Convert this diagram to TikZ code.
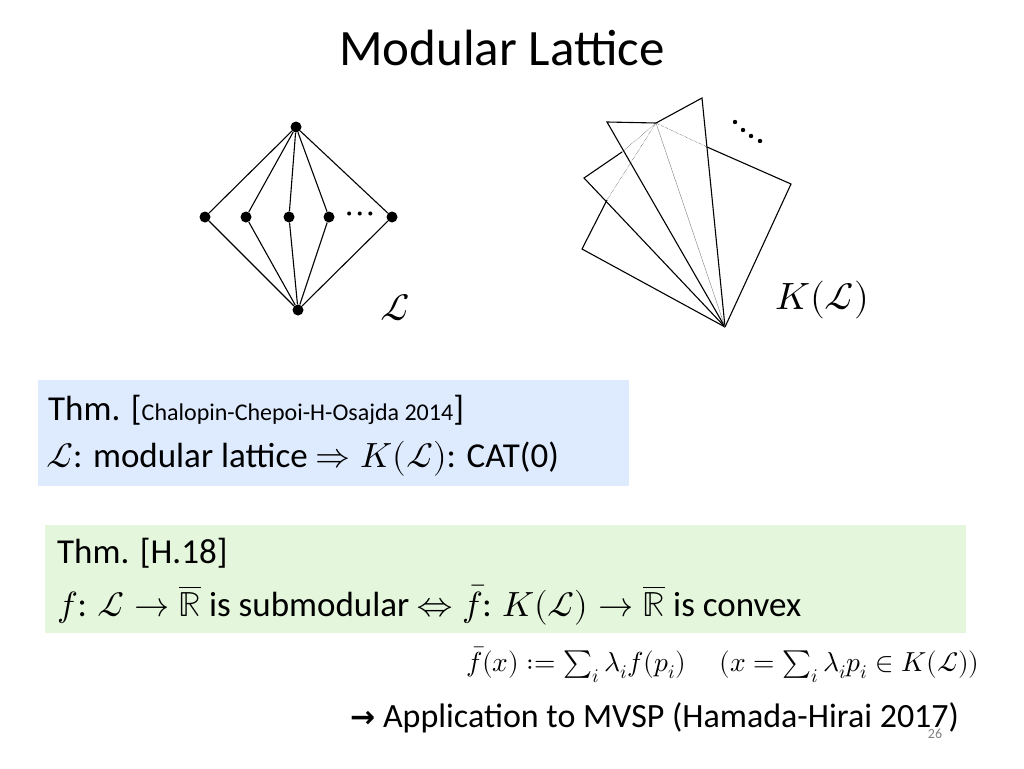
\documentclass[tikz,border=0pt]{standalone}
\usepackage{fontspec}
\usepackage{unicode-math}
\setmathfont{Latin Modern Math}
\setmainfont{Carlito}
\newfontfamily\dv{DejaVu Sans}
\begin{document}
\begin{tikzpicture}[x=1pt,y=-1pt,
  dot/.style={circle,fill,inner sep=0pt,minimum size=11pt},
  txt/.style={anchor=west,inner sep=0pt,font=\fontsize{35}{40}\selectfont},
  ln/.style={line width=1.1pt}]
\useasboundingbox[fill=white] (0,0) rectangle (1024,768);
\node[font=\fontsize{51}{56}\selectfont] (title) at (502,48) {Modular Lattice};
% lattice
\node[dot] (t) at (296,127) {};
\node[dot] (b) at (298,310) {};
\foreach \n/\x in {m1/205,m2/246,m3/289,m4/329,m5/392}{
  \node[dot] (\n) at (\x,217) {};
  \draw[ln] (t) -- (\n) -- (b);}
\node[font=\fontsize{38}{38}\selectfont] (dd) at (360,218) {$\cdots$};
\node[font=\fontsize{38}{38}\selectfont] (L) at (395,308) {$\mathcal{L}$};
% K(L)
\coordinate (a) at (725,327);
\coordinate (p) at (656,123);
\draw[ln] (a) -- (582,249) -- (607,200);
\draw[densely dotted] (607,200) -- (p);
\draw[ln] (a) -- (584,178) -- (622,152);
\draw[densely dotted] (622,152) -- (p);
\draw[ln] (a) -- (607,122) -- (p) -- (702,98) -- (a);
\draw[densely dotted] (p) -- (707,147);
\draw[ln] (707,147) -- (791,184) -- (a);
\draw[gray] (p) -- (a);
\foreach \x/\y in {735/122,743/130,751/136,760/141} \fill (\x,\y) circle (2.2pt);
\node[font=\fontsize{38}{38}\selectfont] (K) at (822,300) {$K(\mathcal{L})$};
% blue box
\node[fill=blue!60!cyan!13,minimum width=591pt,minimum height=106pt,anchor=north west,inner sep=0pt] (bb) at (38,380) {};
\node[txt] (b1) at (48,410) {Thm. [{\fontsize{24}{28}\selectfont Chalopin-Chepoi-H-Osajda 2014}]};
\node[txt] (b2) at (46,459) {$\mathcal{L}$: modular lattice $\Rightarrow K(\mathcal{L})$: CAT(0)};
% green box
\node[fill=green!50!olive!14,minimum width=921pt,minimum height=108pt,anchor=north west,inner sep=0pt] (gb) at (45,525) {};
\node[txt] (g1) at (57,553) {Thm. [H.18]};
\node[txt] (g2) at (57,605) {$f$: $\mathcal{L}\rightarrow\overline{\mathbb{R}}$ is submodular $\Leftrightarrow \bar f$: $K(\mathcal{L})\rightarrow\overline{\mathbb{R}}$ is convex};
\node[txt,font=\fontsize{27.5}{30}\selectfont] (fm) at (466,665) {$\bar f(x) \mathrel{:=} \sum_i \lambda_i f(p_i)\quad\ (x=\sum_i\lambda_i p_i\in K(\mathcal{L}))$};
\node[txt,font=\fontsize{34}{38}\selectfont] (ap) at (350,718) {{\dv\bfseries\fontsize{30}{30}\selectfont →} Application to MVSP (Hamada-Hirai 2017)};
\node[font=\fontsize{14}{14}\selectfont,text=gray] (pg) at (935,734) {26};
\end{tikzpicture}
\end{document}
